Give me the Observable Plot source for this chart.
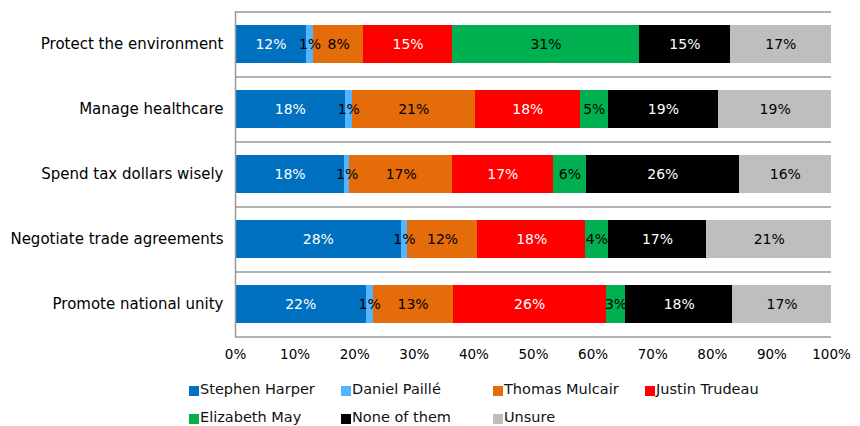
<!DOCTYPE html>
<html>
<head>
<meta charset="utf-8">
<script src="https://cdn.jsdelivr.net/npm/d3@7"></script>
<script src="https://cdn.jsdelivr.net/npm/@observablehq/plot@0.6"></script>
<style>
  body { margin: 0; background: #fff; font-family: "DejaVu Sans", sans-serif; color: #000; }
  #chart { width: 860px; }
  #chart svg g[aria-label^="x-axis"] text { font-size: 13.5px; }
  #chart svg g[aria-label^="y-axis"] text { font-size: 15px; }
  .legend { display: flex; flex-wrap: wrap; margin-left: 189px; width: 620px; padding-top: 3px; }
  .item { width: 152px; height: 28px; display: flex; align-items: center; font-size: 14.5px; color: #111; white-space: nowrap; }
  .sw { width: 10px; height: 10px; margin-right: 1px; margin-top: 4px; flex: none; }
</style>
</head>
<body>
<div id="chart"></div>
<div class="legend" id="legend"></div>
<script>
// ---- data ----
const questions = [
  "Protect the environment",
  "Manage healthcare",
  "Spend tax dollars wisely",
  "Negotiate trade agreements",
  "Promote national unity"
];
const parties = ["Stephen Harper", "Daniel Paillé", "Thomas Mulcair", "Justin Trudeau", "Elizabeth May", "None of them", "Unsure"];
const colors = ["#0070C0", "#55B4FF", "#E46C0A", "#FF0000", "#00B050", "#000000", "#BEBEBE"];
const whiteLabelParties = ["Stephen Harper", "Justin Trudeau", "None of them"];

const stephenHarper = [11.9, 18.4, 18.3, 27.8, 21.9];
const danielPaille  = [1.2, 1.2, 0.9, 1.1, 1.2];
const thomasMulcair = [8.4, 20.6, 17.2, 11.7, 13.4];
const justinTrudeau = [14.9, 17.7, 16.9, 18.2, 25.7];
const elizabethMay  = [31.4, 4.6, 5.6, 3.7, 3.3];
const noneOfThem    = [15.2, 18.6, 25.6, 16.6, 17.9];
const unsure        = [17.0, 18.9, 15.5, 20.9, 16.6];

const xTicks = [0, 10, 20, 30, 40, 50, 60, 70, 80, 90, 100];

// ---- table built from the arrays ----
const series = [stephenHarper, danielPaille, thomasMulcair, justinTrudeau, elizabethMay, noneOfThem, unsure];
const rows = [];
questions.forEach((q, i) => {
  let acc = 0;
  parties.forEach((p, j) => {
    const v = series[j][i];
    rows.push({q, party: p, x1: acc, x2: acc + v, label: Math.round(v) + "%"});
    acc += v;
  });
});
const whiteRows = rows.filter(d => whiteLabelParties.includes(d.party));
const blackRows = rows.filter(d => !whiteLabelParties.includes(d.party));

const H = 372, mTop = 11, mBottom = 35;
const step = (H - mTop - mBottom) / questions.length;

const chart = Plot.plot({
  width: 860,
  height: H,
  marginLeft: 235,
  marginRight: 29,
  marginTop: mTop,
  marginBottom: mBottom,
  style: {fontFamily: "DejaVu Sans, sans-serif", fontSize: "14px", background: "#fff", color: "#000"},
  x: {domain: [0, 100], ticks: xTicks, tickFormat: d => d + "%", tickSize: 0, tickPadding: 12, label: null},
  y: {domain: questions, paddingInner: 0.42, paddingOuter: 0.21, tickSize: 0, tickPadding: 12, label: null},
  color: {domain: parties, range: colors},
  marks: [
    Plot.barX(rows, {x1: "x1", x2: "x2", y: "q", fill: "party", shapeRendering: "crispEdges"}),
    Plot.ruleY(questions, {y: d => d, dy: step / 2, stroke: "#999", strokeWidth: 1.5}),
    Plot.ruleY([questions[0]], {y: d => d, dy: -step / 2, stroke: "#999", strokeWidth: 1.5}),
    Plot.ruleX([0], {stroke: "#999", strokeWidth: 1.5}),
    Plot.text(whiteRows, {x: d => (d.x1 + d.x2) / 2, y: "q", text: "label", fill: "white", fontSize: 14}),
    Plot.text(blackRows, {x: d => (d.x1 + d.x2) / 2, y: "q", text: "label", fill: "black", fontSize: 14})
  ]
});
document.getElementById("chart").appendChild(chart);

// ---- legend ----
const legend = document.getElementById("legend");
parties.forEach((p, j) => {
  const item = document.createElement("div");
  item.className = "item";
  const sw = document.createElement("span");
  sw.className = "sw";
  sw.style.background = colors[j];
  const t = document.createElement("span");
  t.textContent = p;
  item.appendChild(sw);
  item.appendChild(t);
  legend.appendChild(item);
});
</script>
</body>
</html>
